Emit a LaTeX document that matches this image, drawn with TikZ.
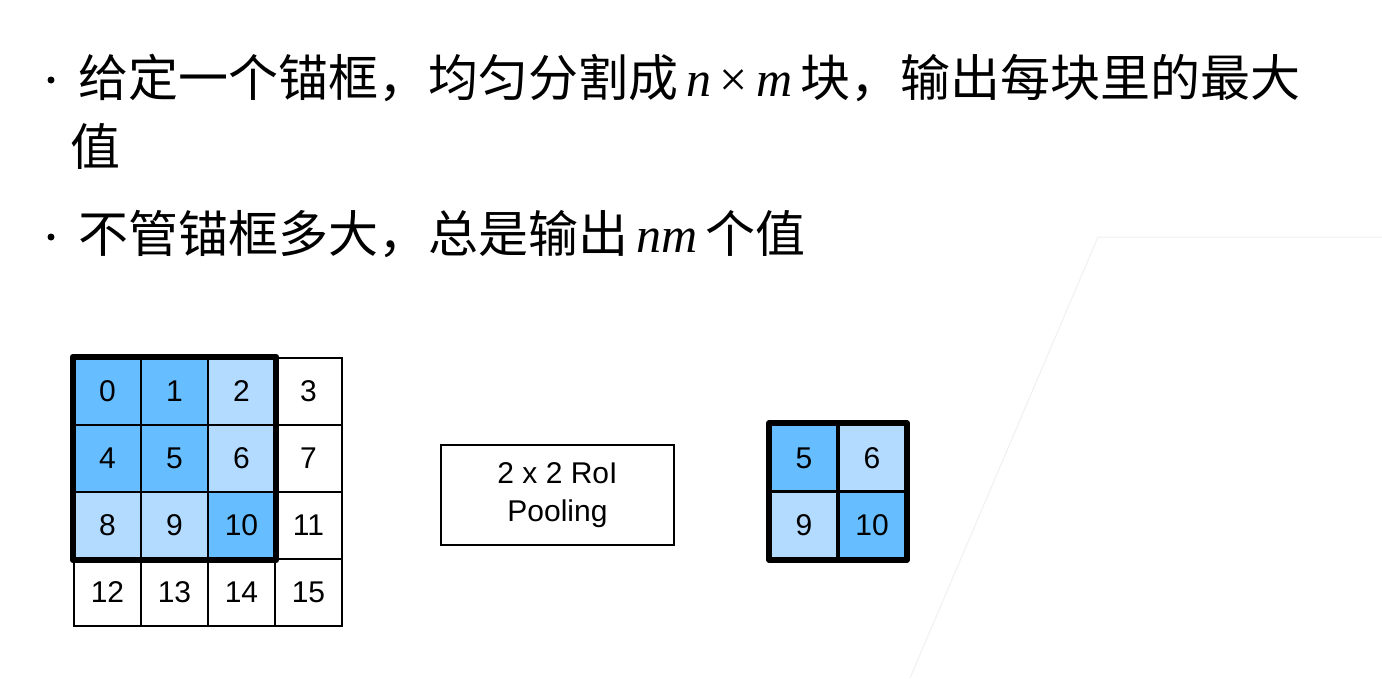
\documentclass[tikz,border=0pt]{standalone}
\usepackage{fontspec}
\setmainfont{Liberation Sans}
\newfontfamily\cjk{Noto Sans CJK SC}
\newfontfamily\tms{Liberation Serif}
\definecolor{dk}{HTML}{66BDFF}
\definecolor{lt}{HTML}{B3DAFF}
\begin{document}
\begin{tikzpicture}[x=1pt,y=-1pt,
  cell/.style={draw,line width=2.5pt,minimum size=67pt,inner sep=0pt,font=\fontsize{30}{32}\selectfont},
  txt/.style={anchor=base west,inner sep=0pt,font=\cjk\fontsize{50}{52}\selectfont},
  dot/.style={circle,fill=black,inner sep=0pt,minimum size=7pt}]
\useasboundingbox (0,0) rectangle (1382,678);
\draw[black!6,line width=1pt] (910,678) -- (1098,237) -- (1382,237);
\node[dot] (b1) at (51,80) {};
\node[txt] (l1) at (78,96) {给定一个锚框，均匀分割成\,{\tms\itshape n}\,{\tms ×}\,{\tms\itshape m}\,块，输出每块里的最大};
\node[txt] (l2) at (70,165) {值};
\node[dot] (b2) at (51,237) {};
\node[txt] (l3) at (78,252) {不管锚框多大，总是输出\,{\tms\itshape nm}\,个值};
\foreach \i in {0,...,15}{
  \pgfmathtruncatemacro\c{mod(\i,4)}
  \pgfmathtruncatemacro\r{div(\i,4)}
  \def\col{white}
  \ifnum\i=0 \def\col{dk}\fi \ifnum\i=1 \def\col{dk}\fi
  \ifnum\i=4 \def\col{dk}\fi \ifnum\i=5 \def\col{dk}\fi \ifnum\i=10 \def\col{dk}\fi
  \ifnum\i=2 \def\col{lt}\fi \ifnum\i=6 \def\col{lt}\fi
  \ifnum\i=8 \def\col{lt}\fi \ifnum\i=9 \def\col{lt}\fi
  \node[cell,fill=\col] (g\i) at ({107.5+67*\c},{391.5+67*\r}) {\i};
}
\draw[line width=6pt,line join=round] (g0.north west) rectangle (g10.south east);
\node[draw,line width=2.5pt,minimum width=233pt,minimum height=100pt,align=center,
  font=\fontsize{30}{38}\selectfont] (pool) at (557.5,495) {2 x 2 RoI\\Pooling};
\node[cell,fill=dk] (o5) at (804,458) {5};
\node[cell,fill=lt] (o6) at (872,458) {6};
\node[cell,fill=lt] (o9) at (804,525) {9};
\node[cell,fill=dk] (o10) at (872,525) {10};
\draw[line width=6pt,line join=round] (o5.north west) rectangle (o10.south east);
\end{tikzpicture}
\end{document}
